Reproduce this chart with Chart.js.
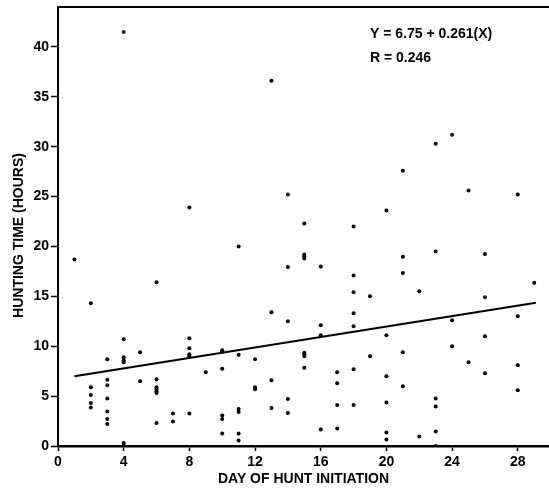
<!DOCTYPE html>
<html>
<head>
<meta charset="utf-8">
<script src="https://cdn.jsdelivr.net/npm/chart.js@4.4.1/dist/chart.umd.min.js"></script>
<style>
  body { margin: 0; background: #fff; }
  #chart { display: block; }
</style>
</head>
<body>
<canvas id="chart" width="549" height="488"></canvas>
<script>
// Dados (dia de início x horas de caça)
const dayX = [
  1,
  2, 2, 2, 2, 2,
  3, 3, 3, 3, 3, 3, 3,
  4, 4, 4, 4, 4, 4, 4,
  5, 5,
  6, 6, 6, 6, 6, 6, 6,
  7, 7,
  8, 8, 8, 8, 8, 8,
  9,
  10, 10, 10, 10, 10, 10,
  11, 11, 11, 11, 11, 11,
  12, 12, 12,
  13, 13, 13, 13,
  14, 14, 14, 14, 14,
  15, 15, 15, 15, 15, 15, 15, 15,
  16, 16, 16, 16,
  17, 17, 17, 17,
  18, 18, 18, 18, 18, 18, 18,
  19, 19,
  20, 20, 20, 20, 20, 20,
  21, 21, 21, 21, 21,
  22, 22,
  23, 23, 23, 23, 23, 23,
  24, 24, 24,
  25, 25,
  26, 26, 26, 26,
  28, 28, 28, 28,
  29
];
const huntHours = [
  18.7,
  14.3, 5.9, 5.1, 4.3, 3.85,
  8.7, 6.65, 6.1, 4.75, 3.45, 2.7, 2.2,
  41.5, 10.7, 8.9, 8.6, 8.4, 0.3, 0.05,
  9.4, 6.5,
  16.4, 6.7, 5.9, 5.7, 5.45, 5.3, 2.3,
  3.25, 2.45,
  23.9, 10.8, 9.8, 9.2, 9.0, 3.25,
  7.4,
  9.6, 9.45, 7.75, 3.05, 2.7, 1.25,
  20.0, 9.15, 3.7, 3.4, 1.25, 0.55,
  8.7, 5.9, 5.7,
  36.6, 13.4, 6.6, 3.8,
  25.2, 17.95, 12.5, 4.7, 3.3,
  22.3, 19.2, 19.0, 18.8, 9.35, 9.2, 9.0, 7.85,
  18.0, 12.1, 11.1, 1.65,
  7.4, 6.3, 4.1, 1.75,
  22.0, 17.1, 15.4, 13.3, 12.0, 7.7, 4.1,
  15.0, 9.0,
  23.6, 11.1, 7.0, 4.35, 1.35, 0.65,
  27.6, 18.96, 17.35, 9.4, 6.0,
  15.5, 0.95,
  30.3, 19.5, 4.75, 3.95, 1.45, 0.0,
  31.2, 12.6, 10.0,
  25.6, 8.4,
  19.25, 14.9, 11.0, 7.3,
  25.2, 13.0, 8.1, 5.6,
  16.35
];

// Reta de regressão (extremos)
const lineX = [1, 29.1];
const lineY = [7.0, 14.35];

// Marcas dos eixos
const xTicks = [0, 4, 8, 12, 16, 20, 24, 28];
const yTicks = [0, 5, 10, 15, 20, 25, 30, 35, 40];

// Texto da equação e título do eixo Y
const equationLines = ["Y = 6.75 + 0.261(X)", "R = 0.246"];
const equationX = 19.0;
const equationY = [41.3, 38.9];
const yTitle = "HUNTING TIME (HOURS)";

const fontFamily = "'Liberation Sans', Arial, sans-serif";

// Plugin simples: borda superior, título vertical e texto da equação
const extrasPlugin = {
  id: "extras",
  afterDatasetsDraw(chart) {
    const { ctx, chartArea, scales } = chart;
    ctx.save();
    ctx.strokeStyle = "#000";
    ctx.lineWidth = 2;
    ctx.beginPath();
    ctx.moveTo(chartArea.left, chartArea.top);
    ctx.lineTo(chartArea.right, chartArea.top);
    ctx.stroke();

    ctx.fillStyle = "#000";
    ctx.font = "bold 14px " + fontFamily;
    ctx.textAlign = "left";
    ctx.textBaseline = "middle";
    equationLines.forEach((txt, i) => {
      ctx.fillText(txt, scales.x.getPixelForValue(equationX), scales.y.getPixelForValue(equationY[i]));
    });

    // título do eixo Y, um pouco abaixo do centro como no original
    ctx.translate(19, (chartArea.top + chartArea.bottom) / 2 + 9);
    ctx.rotate(-Math.PI / 2);
    ctx.textAlign = "center";
    ctx.font = "bold 14px " + fontFamily;
    ctx.fillText(yTitle, 0, 0);
    ctx.restore();
  }
};

new Chart(document.getElementById("chart"), {
  type: "scatter",
  data: {
    datasets: [
      {
        label: "Horas",
        data: dayX.map((x, i) => ({ x: x, y: huntHours[i] })),
        backgroundColor: "#000",
        borderColor: "#000",
        pointRadius: 2,
        pointBorderWidth: 0
      },
      {
        type: "line",
        label: "Regressão",
        data: lineX.map((x, i) => ({ x: x, y: lineY[i] })),
        borderColor: "#000",
        borderWidth: 2,
        pointRadius: 0,
        fill: false
      }
    ]
  },
  options: {
    responsive: false,
    animation: false,
    layout: { autoPadding: false, padding: { top: 7, right: 0, left: 0, bottom: 0 } },
    plugins: {
      legend: { display: false },
      tooltip: { enabled: false }
    },
    scales: {
      x: {
        type: "linear",
        min: 0,
        max: 29.9,
        afterBuildTicks: (scale) => { scale.ticks = xTicks.map(v => ({ value: v })); },
        afterFit: (scale) => {
          scale.height = 42;
          scale.paddingLeft = 0;
          scale.paddingRight = 0;
        },
        grid: { drawOnChartArea: false, drawTicks: true, tickLength: 5, color: "#000", tickWidth: 1.5 },
        border: { display: true, color: "#000", width: 2.5 },
        ticks: {
          color: "#000",
          padding: 3,
          maxRotation: 0,
          font: { family: fontFamily, size: 14, weight: "bold" }
        },
        title: {
          display: true,
          text: "DAY OF HUNT INITIATION",
          color: "#000",
          padding: { top: 0, bottom: 0 },
          font: { family: fontFamily, size: 14, weight: "bold" }
        }
      },
      y: {
        type: "linear",
        min: 0,
        max: 44,
        afterBuildTicks: (scale) => { scale.ticks = yTicks.map(v => ({ value: v })); },
        afterFit: (scale) => {
          scale.width = 58;
          scale.paddingTop = 0;
          scale.paddingBottom = 0;
        },
        grid: { drawOnChartArea: false, drawTicks: true, tickLength: 7, color: "#000", tickWidth: 1.5 },
        border: { display: true, color: "#000", width: 2 },
        ticks: {
          color: "#000",
          padding: 2,
          font: { family: fontFamily, size: 14, weight: "bold" }
        },
        title: { display: false }
      }
    }
  },
  plugins: [extrasPlugin]
});
</script>
</body>
</html>
